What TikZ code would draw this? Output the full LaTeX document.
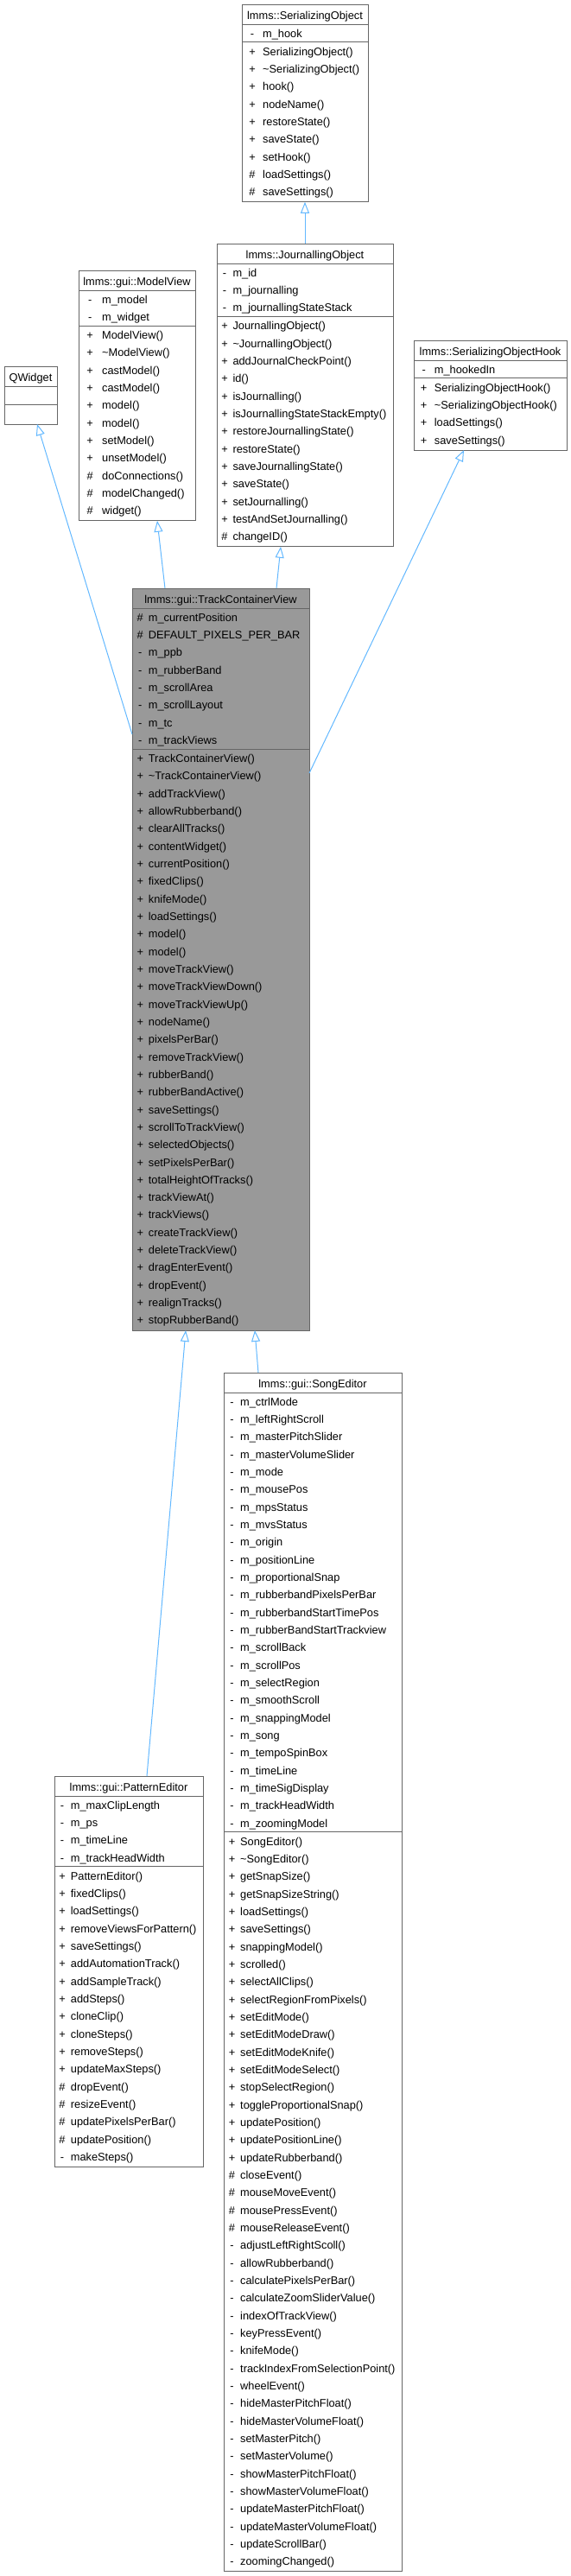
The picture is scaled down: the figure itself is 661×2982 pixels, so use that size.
\documentclass[tikz,border=0pt]{standalone}
\usepackage{fontspec}
\setmainfont{Liberation Sans}
\usetikzlibrary{arrows.meta,calc}
\definecolor{edgeblue}{HTML}{63B8FF}
\definecolor{framegray}{HTML}{666666}
\definecolor{basegray}{HTML}{999999}

\begin{document}
\begin{tikzpicture}[x=1pt, y=-1pt,
    font=\fontsize{12.8}{15}\selectfont,
    classbox/.style={draw=framegray, line width=1pt, fill=white, anchor=north west, inner sep=0pt, outer sep=0pt},
    divider/.style={draw=framegray, line width=1pt},
    ctitle/.style={anchor=base, inner sep=0pt},
    vis/.style={anchor=base, inner sep=0pt},
    member/.style={anchor=base west, inner sep=0pt},
    extends/.style={draw=edgeblue, line width=1pt, -{Triangle[open, length=13pt, width=10pt]}}]
    \useasboundingbox (0,0) rectangle (661,2982);

    % lmms::SerializingObject
    \begin{scope}[shift={(280,5)}]
        \node[classbox, minimum width=146pt, minimum height=228.8pt] (serobj) at (0,0) {};
        \node[ctitle] (serobj-name) at (73,17.5) {lmms::SerializingObject};
        \draw[divider] (0,23) -- (146,23) (0,43.8) -- (146,43.8);
        \foreach \v/\m [count=\i from 0] in {-/m\_hook} {
            \node[vis] (serobj-av\i) at (12,38.3+\i*20.33) {\v};
            \node[member] (serobj-a\i) at (24,38.3+\i*20.33) {\m};
        }
        \foreach \v/\m [count=\i from 0] in {+/SerializingObject(), +/\textasciitilde SerializingObject(),
            +/hook(), +/nodeName(), +/restoreState(), +/saveState(), +/setHook(),
            \#/loadSettings(), \#/saveSettings()} {
            \node[vis] (serobj-mv\i) at (12,59.1+\i*20.33) {\v};
            \node[member] (serobj-m\i) at (24,59.1+\i*20.33) {\m};
        }
    \end{scope}

    % lmms::JournallingObject
    \begin{scope}[shift={(251,282)}]
        \node[classbox, minimum width=204pt, minimum height=350.8pt] (jobj) at (0,0) {};
        \node[ctitle] (jobj-name) at (102,17.5) {lmms::JournallingObject};
        \draw[divider] (0,23) -- (204,23) (0,84.5) -- (204,84.5);
        \foreach \v/\m [count=\i from 0] in {-/m\_id, -/m\_journalling, -/m\_journallingStateStack} {
            \node[vis] (jobj-av\i) at (9,38.3+\i*20.33) {\v};
            \node[member] (jobj-a\i) at (18.3,38.3+\i*20.33) {\m};
        }
        \foreach \v/\m [count=\i from 0] in {+/JournallingObject(), +/\textasciitilde JournallingObject(),
            +/addJournalCheckPoint(), +/id(), +/isJournalling(), +/isJournallingStateStackEmpty(),
            +/restoreJournallingState(), +/restoreState(), +/saveJournallingState(), +/saveState(),
            +/setJournalling(), +/testAndSetJournalling(), \#/changeID()} {
            \node[vis] (jobj-mv\i) at (9,99.8+\i*20.33) {\v};
            \node[member] (jobj-m\i) at (18.3,99.8+\i*20.33) {\m};
        }
    \end{scope}

    % lmms::gui::ModelView
    \begin{scope}[shift={(91,313)}]
        \node[classbox, minimum width=135pt, minimum height=289.8pt] (mview) at (0,0) {};
        \node[ctitle] (mview-name) at (67.5,17.5) {lmms::gui::ModelView};
        \draw[divider] (0,23) -- (135,23) (0,64.2) -- (135,64.2);
        \foreach \v/\m [count=\i from 0] in {-/m\_model, -/m\_widget} {
            \node[vis] (mview-av\i) at (13.2,38.3+\i*20.33) {\v};
            \node[member] (mview-a\i) at (27,38.3+\i*20.33) {\m};
        }
        \foreach \v/\m [count=\i from 0] in {+/ModelView(), +/\textasciitilde ModelView(), +/castModel(),
            +/castModel(), +/model(), +/model(), +/setModel(), +/unsetModel(),
            \#/doConnections(), \#/modelChanged(), \#/widget()} {
            \node[vis] (mview-mv\i) at (13.2,79.5+\i*20.33) {\v};
            \node[member] (mview-m\i) at (27,79.5+\i*20.33) {\m};
        }
    \end{scope}

    % QWidget
    \begin{scope}[shift={(5,424)}]
        \node[classbox, minimum width=61pt, minimum height=67pt] (qwidget) at (0,0) {};
        \node[ctitle] (qwidget-name) at (30.5,17.5) {QWidget};
        \draw[divider] (0,23) -- (61,23) (0,44) -- (61,44);
    \end{scope}

    % lmms::SerializingObjectHook
    \begin{scope}[shift={(479,394)}]
        \node[classbox, minimum width=177pt, minimum height=127.1pt] (sohook) at (0,0) {};
        \node[ctitle] (sohook-name) at (88.5,17.5) {lmms::SerializingObjectHook};
        \draw[divider] (0,23) -- (177,23) (0,43.8) -- (177,43.8);
        \foreach \v/\m [count=\i from 0] in {-/m\_hookedIn} {
            \node[vis] (sohook-av\i) at (11.7,38.3+\i*20.33) {\v};
            \node[member] (sohook-a\i) at (23.7,38.3+\i*20.33) {\m};
        }
        \foreach \v/\m [count=\i from 0] in {+/SerializingObjectHook(), +/\textasciitilde SerializingObjectHook(),
            +/loadSettings(), +/saveSettings()} {
            \node[vis] (sohook-mv\i) at (11.7,59.1+\i*20.33) {\v};
            \node[member] (sohook-m\i) at (23.7,59.1+\i*20.33) {\m};
        }
    \end{scope}

    % lmms::gui::TrackContainerView
    \begin{scope}[shift={(153,681)}]
        \node[classbox, fill=basegray, minimum width=205pt, minimum height=859pt] (tcv) at (0,0) {};
        \node[ctitle] (tcv-name) at (102.5,17.5) {lmms::gui::TrackContainerView};
        \draw[divider] (0,23) -- (205,23) (0,186.1) -- (205,186.1);
        \foreach \v/\m [count=\i from 0] in {\#/m\_currentPosition, \#/DEFAULT\_PIXELS\_PER\_BAR,
            -/m\_ppb, -/m\_rubberBand, -/m\_scrollArea, -/m\_scrollLayout, -/m\_tc, -/m\_trackViews} {
            \node[vis] (tcv-av\i) at (9.3,38.3+\i*20.33) {\v};
            \node[member] (tcv-a\i) at (18.7,38.3+\i*20.33) {\m};
        }
        \foreach \v/\m [count=\i from 0] in {+/TrackContainerView(), +/\textasciitilde TrackContainerView(),
            +/addTrackView(), +/allowRubberband(), +/clearAllTracks(), +/contentWidget(),
            +/currentPosition(), +/fixedClips(), +/knifeMode(), +/loadSettings(), +/model(), +/model(),
            +/moveTrackView(), +/moveTrackViewDown(), +/moveTrackViewUp(), +/nodeName(),
            +/pixelsPerBar(), +/removeTrackView(), +/rubberBand(), +/rubberBandActive(),
            +/saveSettings(), +/scrollToTrackView(), +/selectedObjects(), +/setPixelsPerBar(),
            +/totalHeightOfTracks(), +/trackViewAt(), +/trackViews(), +/createTrackView(),
            +/deleteTrackView(), +/dragEnterEvent(), +/dropEvent(), +/realignTracks(),
            +/stopRubberBand()} {
            \node[vis] (tcv-mv\i) at (9.3,201.4+\i*20.33) {\v};
            \node[member] (tcv-m\i) at (18.7,201.4+\i*20.33) {\m};
        }
    \end{scope}

    % lmms::gui::PatternEditor
    \begin{scope}[shift={(63,2056)}]
        \node[classbox, minimum width=172pt, minimum height=452.4pt] (pedit) at (0,0) {};
        \node[ctitle] (pedit-name) at (86,17.5) {lmms::gui::PatternEditor};
        \draw[divider] (0,23) -- (172,23) (0,104.8) -- (172,104.8);
        \foreach \v/\m [count=\i from 0] in {-/m\_maxClipLength, -/m\_ps, -/m\_timeLine, -/m\_trackHeadWidth} {
            \node[vis] (pedit-av\i) at (9,38.3+\i*20.33) {\v};
            \node[member] (pedit-a\i) at (18.7,38.3+\i*20.33) {\m};
        }
        \foreach \v/\m [count=\i from 0] in {+/PatternEditor(), +/fixedClips(), +/loadSettings(),
            +/removeViewsForPattern(), +/saveSettings(), +/addAutomationTrack(), +/addSampleTrack(),
            +/addSteps(), +/cloneClip(), +/cloneSteps(), +/removeSteps(), +/updateMaxSteps(),
            \#/dropEvent(), \#/resizeEvent(), \#/updatePixelsPerBar(), \#/updatePosition(),
            -/makeSteps()} {
            \node[vis] (pedit-mv\i) at (9,120.1+\i*20.33) {\v};
            \node[member] (pedit-m\i) at (18.7,120.1+\i*20.33) {\m};
        }
    \end{scope}

    % lmms::gui::SongEditor
    \begin{scope}[shift={(259,1589)}]
        \node[classbox, minimum width=206pt, minimum height=1387.7pt] (sedit) at (0,0) {};
        \node[ctitle] (sedit-name) at (103,17.5) {lmms::gui::SongEditor};
        \draw[divider] (0,23) -- (206,23) (0,531.8) -- (206,531.8);
        \foreach \v/\m [count=\i from 0] in {-/m\_ctrlMode, -/m\_leftRightScroll, -/m\_masterPitchSlider,
            -/m\_masterVolumeSlider, -/m\_mode, -/m\_mousePos, -/m\_mpsStatus, -/m\_mvsStatus,
            -/m\_origin, -/m\_positionLine, -/m\_proportionalSnap, -/m\_rubberbandPixelsPerBar,
            -/m\_rubberbandStartTimePos, -/m\_rubberBandStartTrackview, -/m\_scrollBack,
            -/m\_scrollPos, -/m\_selectRegion, -/m\_smoothScroll, -/m\_snappingModel, -/m\_song,
            -/m\_tempoSpinBox, -/m\_timeLine, -/m\_timeSigDisplay, -/m\_trackHeadWidth,
            -/m\_zoomingModel} {
            \node[vis] (sedit-av\i) at (9.5,38.3+\i*20.33) {\v};
            \node[member] (sedit-a\i) at (19,38.3+\i*20.33) {\m};
        }
        \foreach \v/\m [count=\i from 0] in {+/SongEditor(), +/\textasciitilde SongEditor(), +/getSnapSize(),
            +/getSnapSizeString(), +/loadSettings(), +/saveSettings(), +/snappingModel(), +/scrolled(),
            +/selectAllClips(), +/selectRegionFromPixels(), +/setEditMode(), +/setEditModeDraw(),
            +/setEditModeKnife(), +/setEditModeSelect(), +/stopSelectRegion(),
            +/toggleProportionalSnap(), +/updatePosition(), +/updatePositionLine(),
            +/updateRubberband(), \#/closeEvent(), \#/mouseMoveEvent(), \#/mousePressEvent(),
            \#/mouseReleaseEvent(), -/adjustLeftRightScoll(), -/allowRubberband(),
            -/calculatePixelsPerBar(), -/calculateZoomSliderValue(), -/indexOfTrackView(),
            -/keyPressEvent(), -/knifeMode(), -/trackIndexFromSelectionPoint(), -/wheelEvent(),
            -/hideMasterPitchFloat(), -/hideMasterVolumeFloat(), -/setMasterPitch(),
            -/setMasterVolume(), -/showMasterPitchFloat(), -/showMasterVolumeFloat(),
            -/updateMasterPitchFloat(), -/updateMasterVolumeFloat(), -/updateScrollBar(),
            -/zoomingChanged()} {
            \node[vis] (sedit-mv\i) at (9.5,547.1+\i*20.33) {\v};
            \node[member] (sedit-m\i) at (19,547.1+\i*20.33) {\m};
        }
    \end{scope}

    % inheritance
    \draw[extends] ($(jobj.north west)+(102,0)$) -- ($(serobj.south west)+(73,0)$);
    \draw[extends] ($(tcv.north west)+(167,0)$) -- ($(jobj.south west)+(74,0)$);
    \draw[extends] ($(tcv.north west)+(38,0)$) -- ($(mview.south west)+(91,0)$);
    \draw[extends] ($(tcv.north west)+(0,169)$) -- ($(qwidget.south west)+(38,0)$);
    \draw[extends] ($(tcv.north east)+(0,214)$) -- ($(sohook.south west)+(58,0)$);
    \draw[extends] ($(pedit.north west)+(107,0)$) -- ($(tcv.south west)+(62,0)$);
    \draw[extends] ($(sedit.north west)+(40,0)$) -- ($(tcv.south west)+(142,0)$);
\end{tikzpicture}
\end{document}
